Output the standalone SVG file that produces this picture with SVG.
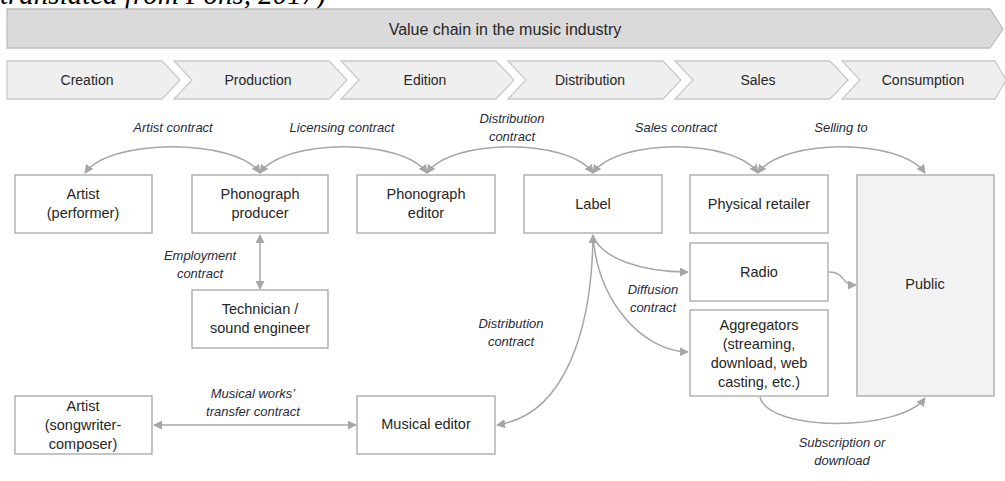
<svg xmlns="http://www.w3.org/2000/svg" width="1005" height="481" viewBox="0 0 1005 481">
<style>
.box{fill:#ffffff;stroke:#a6a6a6;stroke-width:1.3}
.pub{fill:#f2f2f2;stroke:#a6a6a6;stroke-width:1.3}
.chev{fill:#efefef;stroke:#c9c9c9;stroke-width:1.3}
.banner{fill:#dadada;stroke:#bdbdbd;stroke-width:1.3}
.t{font-family:"Liberation Sans",Arial,sans-serif;font-size:14.5px;fill:#262626;text-anchor:middle;dominant-baseline:central}
.h{font-family:"Liberation Sans",Arial,sans-serif;font-size:16px;fill:#262626;text-anchor:middle;dominant-baseline:central}
.c{font-family:"Liberation Sans",Arial,sans-serif;font-size:14px;fill:#262626;text-anchor:middle;dominant-baseline:central}
.i{font-family:"Liberation Sans",Arial,sans-serif;font-size:13px;font-style:italic;fill:#1f2a3a;text-anchor:middle;dominant-baseline:central}
.ln{fill:none;stroke:#a6a6a6;stroke-width:1.5;marker-end:url(#ah)}
.dbl{marker-start:url(#ah)}
</style>
<defs>
<marker id="ah" viewBox="0 0 10 10" refX="9" refY="5" markerWidth="9" markerHeight="9" markerUnits="userSpaceOnUse" orient="auto-start-reverse">
<path d="M0,0 L10,5 L0,10 Z" fill="#a6a6a6"/>
</marker>
</defs>
<text x="0" y="4" font-family="'Liberation Serif',serif" font-style="italic" font-size="29" fill="#000">translated from Pons, 2017)</text>
<g id="banner">
<path class="banner" d="M7,9 H990 L1003,29 L990,48 H7 Z"/>
<text class="h" x="505" y="29">Value chain in the music industry</text>
</g>
<g id="stage-creation"><path class="chev" d="M7,61 H162 L180,80 L162,99 H7 Z"/><text class="c" x="87" y="80">Creation</text></g>
<g id="stage-production"><path class="chev" d="M174,61 H329 L347,80 L329,99 H174 L192,80 Z"/><text class="c" x="258" y="80">Production</text></g>
<g id="stage-edition"><path class="chev" d="M341,61 H496 L514,80 L496,99 H341 L359,80 Z"/><text class="c" x="425" y="80">Edition</text></g>
<g id="stage-distribution"><path class="chev" d="M508,61 H663 L681,80 L663,99 H508 L526,80 Z"/><text class="c" x="590" y="80">Distribution</text></g>
<g id="stage-sales"><path class="chev" d="M675,61 H830 L848,80 L830,99 H675 L693,80 Z"/><text class="c" x="758" y="80">Sales</text></g>
<g id="stage-consumption"><path class="chev" d="M842,61 H995 L1006,80 L995,99 H842 L860,80 Z"/><text class="c" x="923" y="80">Consumption</text></g>

<g id="connectors">
<path class="ln dbl" d="M85,173 C110,138 235,138 260,173"/>
<path class="ln dbl" d="M260,173 C285,138 402,138 427,173"/>
<path class="ln dbl" d="M427,173 C452,138 568,138 593,173"/>
<path class="ln dbl" d="M593,173 C618,138 733,138 758,173"/>
<path class="ln dbl" d="M758,173 C783,138 900,138 925,173"/>
<path class="ln dbl" d="M260,235 V289"/>
<path class="ln dbl" d="M154,425 H356"/>
<path class="ln dbl" d="M593,235 C592,330 565,415 497,425"/>
<path class="ln" d="M593,236 C602,258 640,272 688,272"/>
<path class="ln" d="M593,236 C598,300 640,350 688,352"/>
<path class="ln" d="M829,272 C846,272 840,285 856,285"/>
<path class="ln" d="M760,397 C768,432 900,432 925,398"/>
</g>

<g id="node-artist-performer"><rect class="box" x="15" y="175" width="137" height="58"/><text class="t" x="83" y="194">Artist</text><text class="t" x="83" y="213">(performer)</text></g>
<g id="node-phonograph-producer"><rect class="box" x="192" y="175" width="136" height="58"/><text class="t" x="260" y="194">Phonograph</text><text class="t" x="260" y="213">producer</text></g>
<g id="node-phonograph-editor"><rect class="box" x="357" y="175" width="138" height="58"/><text class="t" x="426" y="194">Phonograph</text><text class="t" x="426" y="213">editor</text></g>
<g id="node-label"><rect class="box" x="524" y="175" width="138" height="58"/><text class="t" x="593" y="204">Label</text></g>
<g id="node-physical-retailer"><rect class="box" x="690" y="175" width="138" height="58"/><text class="t" x="759" y="204">Physical retailer</text></g>
<g id="node-public"><rect class="pub" x="857" y="175" width="137" height="221"/><text class="t" x="925" y="284">Public</text></g>
<g id="node-radio"><rect class="box" x="690" y="243" width="138" height="58"/><text class="t" x="759" y="272">Radio</text></g>
<g id="node-aggregators"><rect class="box" x="690" y="310" width="138" height="86"/><text class="t" x="759" y="325">Aggregators</text><text class="t" x="759" y="344">(streaming,</text><text class="t" x="759" y="363">download, web</text><text class="t" x="759" y="382">casting, etc.)</text></g>
<g id="node-technician"><rect class="box" x="192" y="290" width="136" height="58"/><text class="t" x="260" y="309">Technician /</text><text class="t" x="260" y="328">sound engineer</text></g>
<g id="node-artist-songwriter"><rect class="box" x="15" y="396" width="137" height="58"/><text class="t" x="83" y="406">Artist</text><text class="t" x="83" y="425">(songwriter-</text><text class="t" x="83" y="444">composer)</text></g>
<g id="node-musical-editor"><rect class="box" x="357" y="396" width="138" height="58"/><text class="t" x="426" y="424">Musical editor</text></g>

<g id="labels">
<text class="i" x="173" y="127">Artist contract</text>
<text class="i" x="342" y="127">Licensing contract</text>
<text class="i" x="512" y="118">Distribution</text>
<text class="i" x="512" y="136">contract</text>
<text class="i" x="676" y="127">Sales contract</text>
<text class="i" x="841" y="127">Selling to</text>
<text class="i" x="200" y="255">Employment</text>
<text class="i" x="200" y="273">contract</text>
<text class="i" x="511" y="323">Distribution</text>
<text class="i" x="511" y="341">contract</text>
<text class="i" x="653" y="289">Diffusion</text>
<text class="i" x="653" y="307">contract</text>
<text class="i" x="253" y="393">Musical works’</text>
<text class="i" x="253" y="411">transfer contract</text>
<text class="i" x="842" y="442">Subscription or</text>
<text class="i" x="842" y="460">download</text>
</g>
</svg>
